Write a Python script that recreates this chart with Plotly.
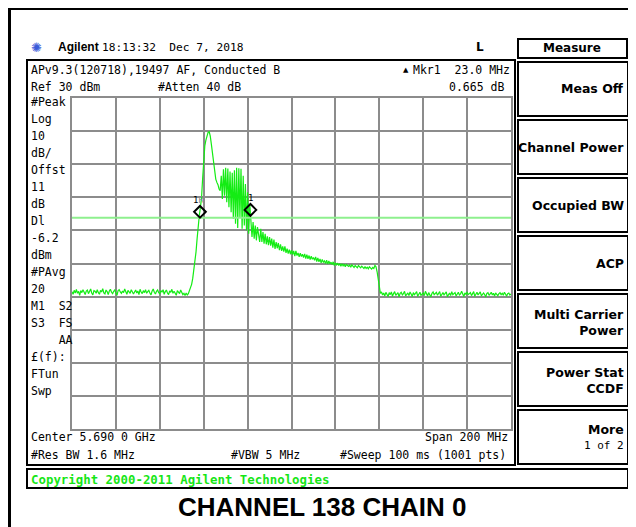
import numpy as np
import plotly.graph_objects as go

W, H = 636, 527
OFF = 8  # the page body adds an 8 px margin; lay the figure out to compensate
FW, FH = W - OFF, H - OFF

center_mhz = 5690.0
span_mhz = 200.0
ref_level = 30.0
db_per_div = 10.0
display_line = -6.2

noise_left = [
    -28.5, -29.3, -28.1, -28.9, -27.8, -29.0, -28.4, -29.6, -28.2, -28.8,
    -27.9, -28.7, -29.4, -28.3, -28.0, -29.1, -28.6, -27.7, -28.9, -29.5,
    -28.2, -28.4, -29.0, -27.9, -28.8, -29.3, -28.1, -28.6, -27.6, -28.9,
    -29.2, -28.0, -28.5, -29.4, -28.3, -27.8, -28.7, -29.1, -28.4, -28.0,
    -28.9, -29.6, -28.2, -27.9, -28.6, -29.0, -28.3, -28.8, -27.7, -28.5,
    -29.3, -28.1, -28.7, -29.0, -27.9, -28.4, -29.2, -28.6, -28.0, -28.9,
    -28.3, -29.4, -27.8, -28.6, -29.1, -28.2, -28.8, -27.9, -29.0, -28.5,
    -28.1, -28.9, -29.5, -28.3, -27.7, -28.7, -29.2, -28.4, -28.0, -28.8,
    -29.1, -28.2, -28.6, -27.9, -29.3, -28.5, -28.0, -28.9, -29.4, -28.3,
    -28.7, -27.8, -29.0, -28.4, -28.9, -29.6, -28.2, -28.6, -29.1, -28.0,
    -28.8, -29.4, -29.0, -29.7, -28.9, -29.5, -29.1,
]
rise = [
    -28.3, -27.5, -26.3, -24.5, -22.0, -20.0, -16.5, -12.5, -8.0, -5.5,
    -3.0, -0.3, 5.5, 11.5, 15.5, 17.3, 18.5, 19.6, 19.8, 18.5,
    16.0, 13.0, 9.5, 7.0, 5.5, 4.5, 3.8, 2.5,
]
burst = [
    2.0, 6.5, -0.5, 8.5, 0.5, 8.9, -1.5, 8.7, -3.0, 7.8,
    -4.5, 7.4, -6.5, 8.2, -8.0, 8.9, -9.3, 8.8, -6.0, 8.6,
    -9.5, 6.5, -8.5, 4.0, -10.0, 1.5, -11.0, -2.0,
]
decay = [
    -6.5, -12.0, -7.5, -12.5, -8.5, -13.0, -9.0, -12.0, -13.5, -9.5,
    -13.5, -10.5, -14.0, -11.0, -14.2, -11.8, -14.5, -12.0, -14.6, -12.5,
    -15.2, -12.8, -15.6, -13.5, -15.4, -13.8, -16.0, -14.2, -16.2, -14.8,
    -16.4, -14.8, -16.8, -15.5, -17.0, -15.8, -17.2, -16.0, -17.3, -16.2,
    -17.8, -16.2, -17.6, -16.8, -18.0, -16.9, -17.9, -17.2, -18.2, -17.1,
    -18.5, -17.3, -18.6, -17.6, -18.8, -17.8, -18.7, -18.2, -19.0, -18.0,
    -19.4, -18.3, -19.5, -18.6, -19.8, -18.8, -19.6, -19.2, -20.0, -19.0,
    -20.2, -19.2, -20.1, -19.6, -20.3, -19.5, -20.6, -19.8, -20.4, -19.9,
    -20.6, -20.0, -20.8, -20.1, -20.7, -20.2, -21.0, -20.3, -20.6, -20.9,
    -20.5, -21.1, -20.4, -20.9, -21.2, -20.6, -21.0, -21.3, -20.6, -21.1,
    -21.3, -20.8, -21.2, -21.5, -20.9, -21.5, -21.1, -21.6, -21.0, -21.4,
    -21.7, -21.2, -21.5, -20.6, -21.0, -22.5, -25.0,
]
noise_right = [
    -27.8, -29.0, -28.6, -29.5, -28.9, -29.8, -28.7, -29.3, -30.0, -28.8,
    -29.4, -28.6, -29.9, -29.1, -28.5, -29.6, -29.2, -28.8, -30.1, -29.0,
    -28.7, -29.5, -29.1, -28.4, -29.8, -29.3, -28.9, -29.7, -28.6, -29.2,
    -30.0, -28.8, -29.4, -29.0, -28.5, -29.9, -29.2, -28.7, -29.6, -29.3,
    -28.9, -29.7, -28.4, -29.1, -29.8, -28.8, -29.5, -30.1, -29.0, -28.6,
    -29.4, -29.0, -28.7, -29.6, -29.2, -28.5, -29.9, -29.1, -28.8, -29.5,
    -29.2, -28.6, -30.0, -29.3, -28.9, -29.7, -28.5, -29.4, -29.1, -28.8,
    -29.8, -29.0, -28.7, -29.5, -29.2, -28.4, -29.6, -30.0, -28.9, -29.3,
    -28.6, -29.4, -29.1, -28.8, -29.7, -29.0, -28.5, -29.9, -29.2, -28.7,
    -29.5, -29.1, -28.6, -29.8, -29.3, -28.9, -29.4, -30.1, -29.0, -28.8,
    -29.6, -29.2, -28.7, -29.5, -29.0, -29.8, -28.9, -29.3, -29.7, -29.1,
    -28.8, -29.4, -29.0, -29.6, -28.7, -29.2, -29.9, -29.1, -28.9, -29.5,
    -29.2,
]

mkr_freq = [5648.3, 5671.3]
mkr_level = [-4.4, -3.8]

header_time = "18:13:32  Dec 7, 2018"
title_line = "APv9.3(120718),19497 AF, Conducted B"
left_labels = ["#Peak", "Log", "10", "dB/", "Offst", "11", "dB", "Dl", "-6.2", "dBm",
               "#PAvg", "20", "M1  S2", "S3  FS", "    AA", "£(f):", "FTun", "Swp"]
softkeys = ["Meas Off", "Channel Power", "Occupied BW", "ACP",
            "Multi Carrier<br>Power", "Power Stat<br>CCDF", "More"]
caption = "CHANNEL 138 CHAIN 0"

levels = noise_left + rise + burst + decay + noise_right
f_start = center_mhz - span_mhz / 2
f_stop = center_mhz + span_mhz / 2
freq = np.linspace(f_start, f_stop, len(levels))
bottom_level = ref_level - 10 * db_per_div

# ---------------- helpers (reference pixel -> paper) ----------------
def px(x):
    return (x - OFF) / FW

def py(y):
    return 1 - (y - OFF) / FH

MONO = "DejaVu Sans Mono"
MS = 11.5
BOLD = "DejaVu Sans"

fig = go.Figure()

fig.add_trace(go.Scatter(
    x=freq, y=levels, mode="lines",
    line=dict(color="#14ec14", width=1.2), hoverinfo="skip", showlegend=False))

fig.add_trace(go.Scatter(
    x=[f_start, f_stop], y=[display_line, display_line], mode="lines",
    line=dict(color="#8ef08e", width=2), hoverinfo="skip", showlegend=False))

fig.add_trace(go.Scatter(
    x=mkr_freq, y=mkr_level, mode="markers",
    marker=dict(symbol="diamond-open", size=9, color="black", line=dict(width=2, color="black")),
    hoverinfo="skip", showlegend=False))

ann = []

def text(x, y, s, size=MS, family=MONO, anchor="left", color="black", bold=False):
    if bold:
        s = "<b>" + s + "</b>"
    ann.append(dict(x=px(x), y=py(y), xref="paper", yref="paper", text=s,
                    showarrow=False, xanchor=anchor, yanchor="middle",
                    font=dict(family=family, size=size, color=color)))

# marker labels
ann.append(dict(x=mkr_freq[0], y=mkr_level[0], xref="x", yref="y",
                text="1<span style='color:#888'>R</span>", showarrow=False,
                xanchor="center", yanchor="bottom", yshift=5, xshift=-1,
                font=dict(family=MONO, size=9, color="black")))
ann.append(dict(x=mkr_freq[1], y=mkr_level[1], xref="x", yref="y",
                text="1", showarrow=False, xanchor="center", yanchor="bottom", yshift=5,
                font=dict(family=MONO, size=9, color="black")))

# header
text(37, 47, "✺", size=13, family="DejaVu Sans", anchor="center", color="#3a5bd9")
text(56, 47, "Agilent", size=12, family="Liberation Sans", bold=True)
text(100, 47, header_time, size=11.2)
text(480, 47, "L", size=12, family=BOLD, anchor="center", bold=True)

# screen header lines
text(29, 70, title_line)
text(29, 87, "Ref 30 dBm")
text(156, 87, "#Atten 40 dB")
text(406, 70, "▲", size=7, family="DejaVu Sans", anchor="center")
text(512, 70, "Mkr1  23.0 MHz", anchor="right")
text(506, 87, "0.665 dB", anchor="right")

for k, lab in enumerate(left_labels):
    text(29, 102 + 17 * k, lab.replace(" ", "&nbsp;"))

text(29, 437, "Center 5.690 0 GHz")
text(510, 437, "Span 200 MHz", anchor="right")
text(29, 455, "#Res BW 1.6 MHz")
text(229, 455, "#VBW 5 MHz")
text(508, 455, "#Sweep 100 ms (1001 pts)", anchor="right")

text(29, 479, "Copyright 2000-2011 Agilent Technologies", size=12.4, family=MONO,
     color="#16e616", bold=True)

text(322, 507, caption, size=26, family="Liberation Sans", anchor="center", bold=True)

# softkeys
shapes = []

def rect(x0, y0, x1, y1, w=2, color="black"):
    shapes.append(dict(type="rect", xref="paper", yref="paper",
                       x0=px(x0), x1=px(x1), y0=py(y1), y1=py(y0),
                       line=dict(color=color, width=w), fillcolor="rgba(0,0,0,0)"))

def line(x0, y0, x1, y1, w=2, color="black"):
    shapes.append(dict(type="line", xref="paper", yref="paper",
                       x0=px(x0), x1=px(x1), y0=py(y0), y1=py(y1),
                       line=dict(color=color, width=w)))

rect(518, 39, 627, 58)
text(572, 48, "Measure", size=12, family=BOLD, anchor="center", bold=True)

key_tops = [62, 120, 178, 236, 294, 352, 410]
for top, lab in zip(key_tops, softkeys):
    rect(518, top, 628, top + 54)
    if lab == "More":
        text(626, top + 19, "More", size=12.5, family=BOLD, anchor="right", bold=True)
        text(626, top + 35, "1 of 2", size=11, family=MONO, anchor="right")
    elif "<br>" in lab:
        ann.append(dict(x=px(626), y=py(top + 28), xref="paper", yref="paper",
                        text="<b>" + lab + "</b>", showarrow=False, xanchor="right",
                        yanchor="middle", align="right",
                        font=dict(family=BOLD, size=12.5, color="black")))
    else:
        text(626, top + 27, lab, size=12.5, family=BOLD, anchor="right", bold=True)

# screen box and copyright box
rect(27, 60, 515, 465, w=2)
rect(27, 469, 628, 488, w=2)
# outer frame
line(9.5, 9, 9.5, 540, w=3)
line(8, 9, 640, 9, w=2)

fig.update_layout(
    width=FW, height=FH,
    margin=dict(l=0, r=0, t=0, b=0),
    paper_bgcolor="white", plot_bgcolor="white",
    annotations=ann, shapes=shapes,
    xaxis=dict(domain=[px(72), px(511)], range=[f_start, f_stop],
               dtick=span_mhz / 10, tick0=f_start, showgrid=True,
               gridcolor="#8c8c8c", gridwidth=1.5, showticklabels=False,
               ticks="", zeroline=False, showline=True, linecolor="#8c8c8c",
               linewidth=1.5, mirror=True, fixedrange=True),
    yaxis=dict(domain=[py(429), py(98)], range=[bottom_level, ref_level],
               dtick=db_per_div, tick0=bottom_level, showgrid=True,
               gridcolor="#8c8c8c", gridwidth=1.5, showticklabels=False,
               ticks="", zeroline=False, showline=True, linecolor="#8c8c8c",
               linewidth=1.5, mirror=True, fixedrange=True),
)

fig.write_html("out.html")
